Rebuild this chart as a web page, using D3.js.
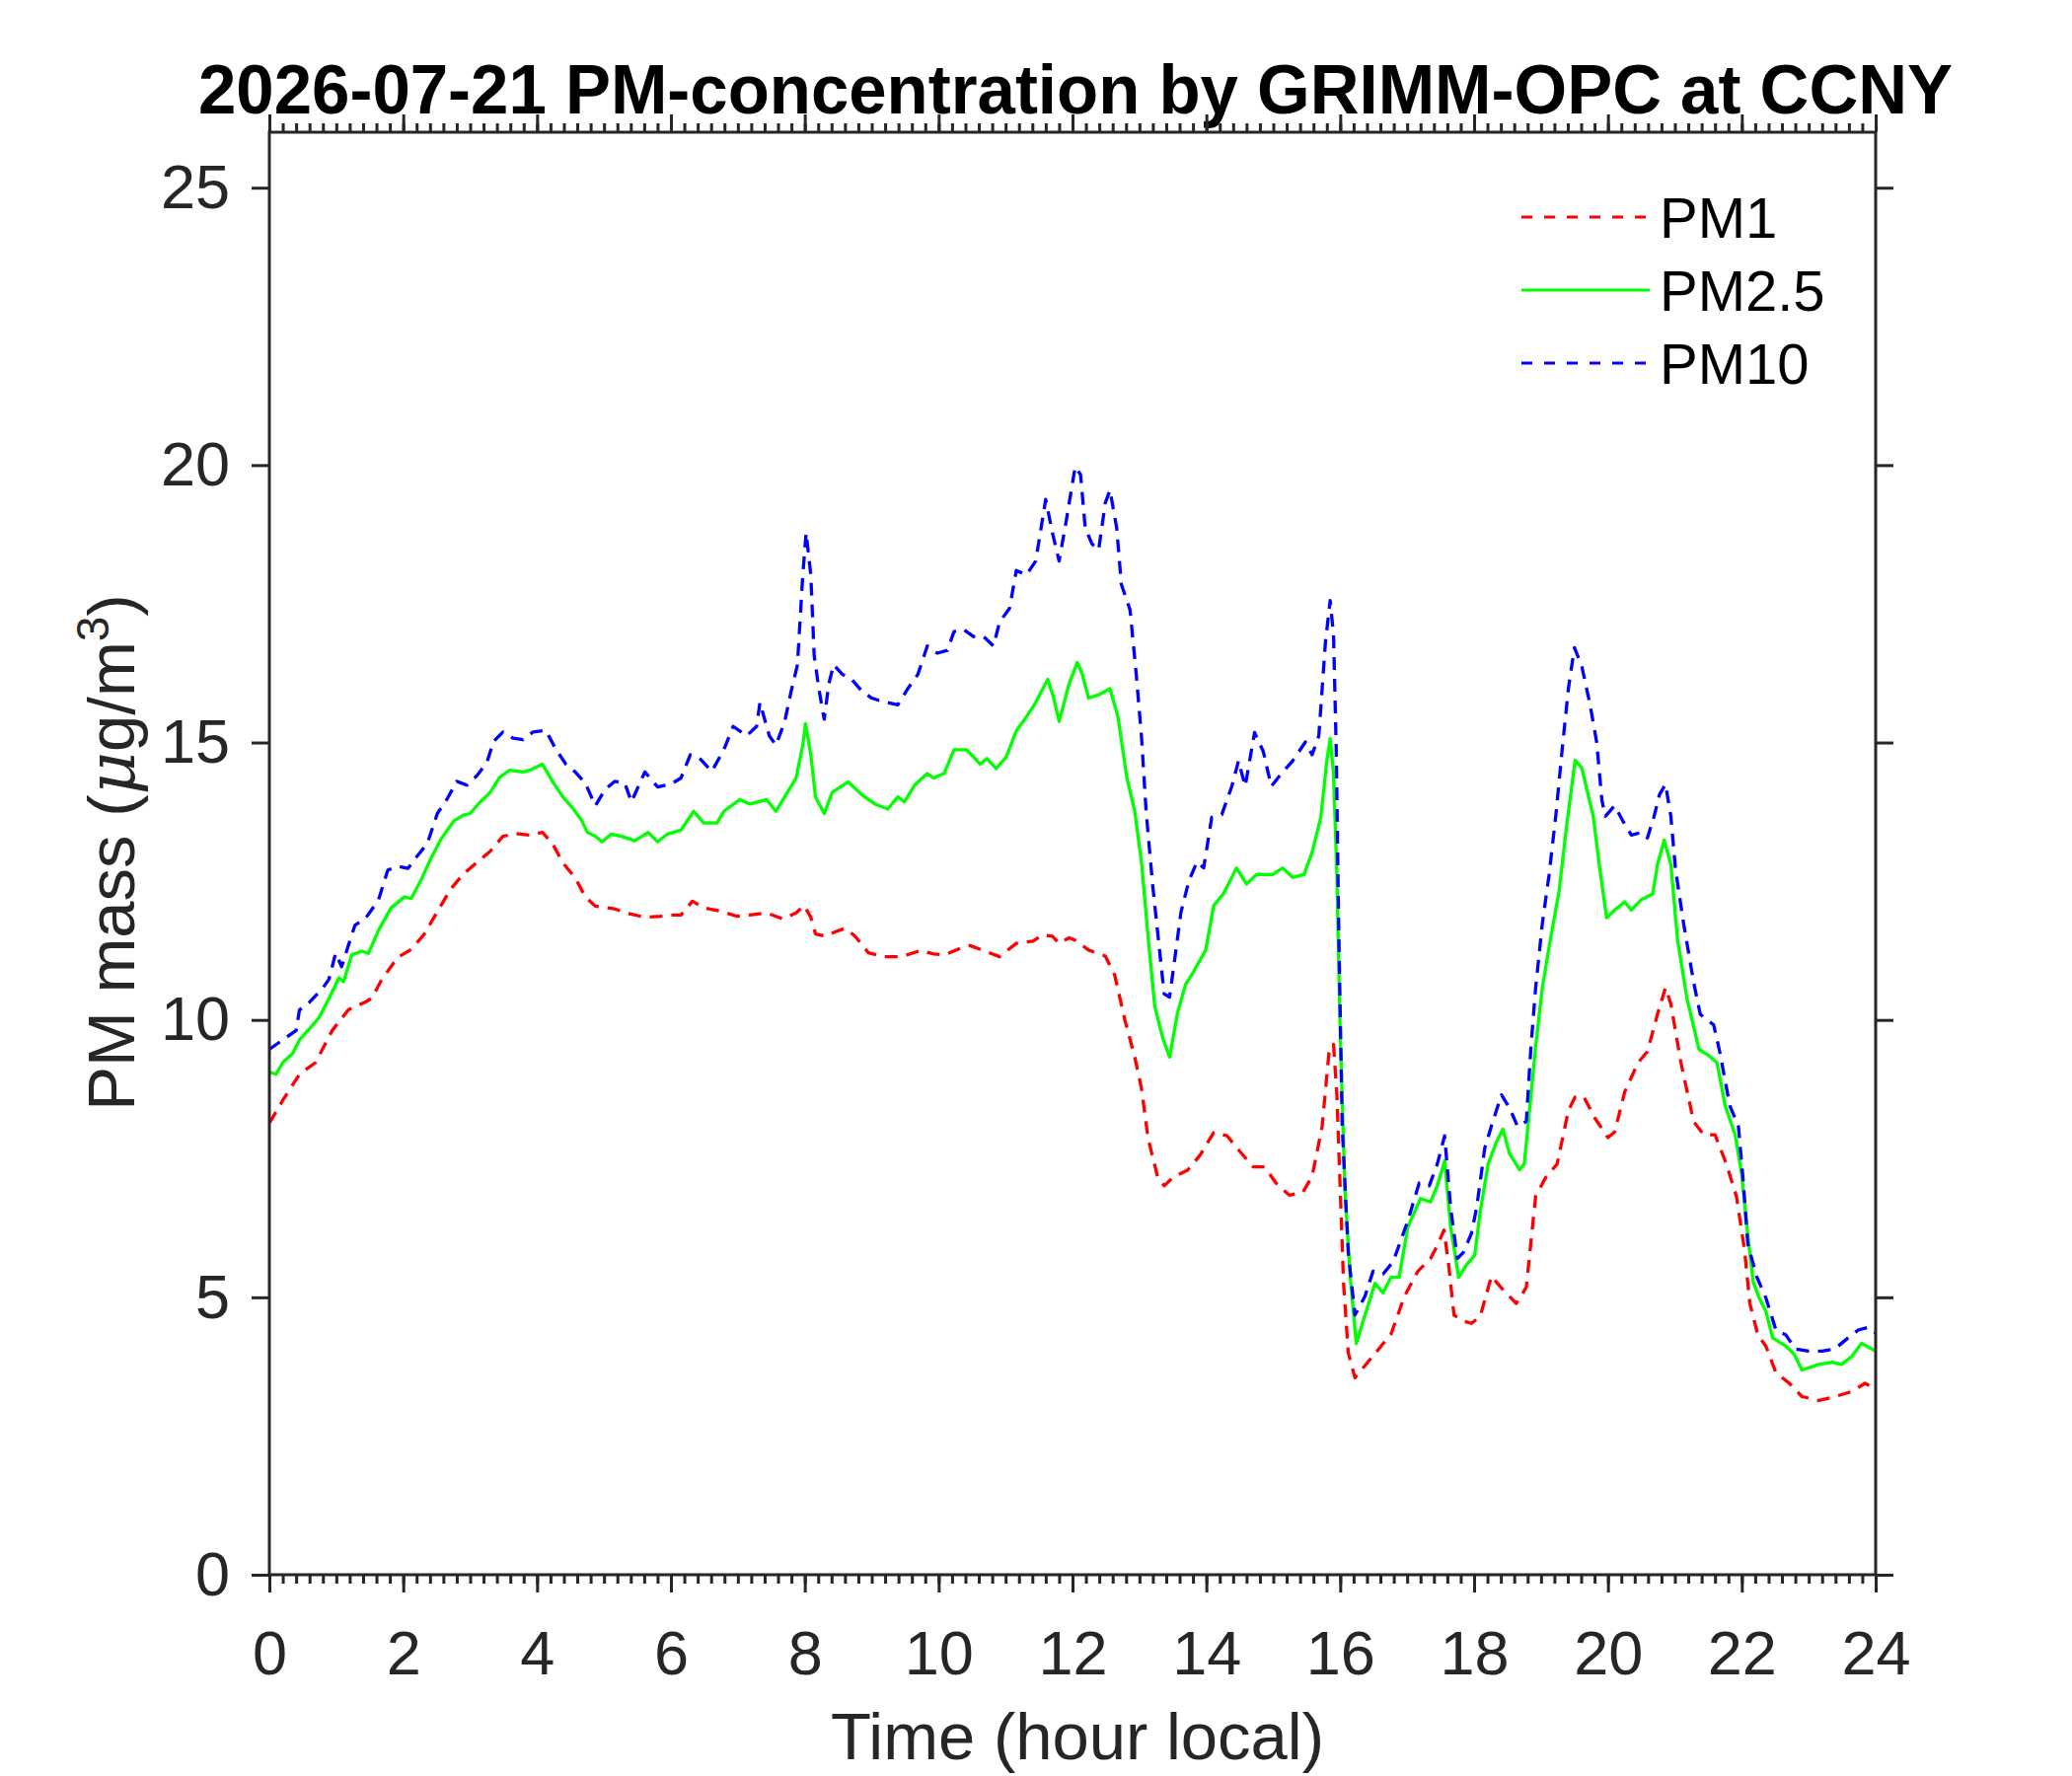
<!DOCTYPE html>
<html>
<head>
<meta charset="utf-8">
<script src="https://cdn.jsdelivr.net/npm/d3@7"></script>
<style>
  body { margin: 0; background: #fff; }
  text { font-family: "Liberation Sans", Arial, Helvetica, sans-serif; }
</style>
</head>
<body>
<div id="chart"></div>
<script>
// values: [hour, ug/m3]
const pm1 = [
  [0, 8.14], [0.2, 8.55], [0.45, 9.02], [0.69, 9.23], [0.94, 9.81], [1.18, 10.18], [1.43, 10.32],
  [1.53, 10.39], [1.68, 10.73], [1.92, 11.13], [2.12, 11.27], [2.31, 11.54], [2.51, 11.95],
  [2.71, 12.36], [2.9, 12.63], [3.1, 12.84], [3.3, 13.04], [3.49, 13.31], [3.69, 13.36],
  [3.89, 13.33], [4.08, 13.38], [4.23, 13.18], [4.38, 12.84], [4.57, 12.56], [4.72, 12.22],
  [4.87, 12.05], [5.16, 12.0], [5.36, 11.92], [5.61, 11.85], [5.85, 11.87], [6.0, 11.89],
  [6.15, 11.89], [6.32, 12.14], [6.49, 12.02], [6.74, 11.96], [6.98, 11.87], [7.18, 11.89],
  [7.43, 11.93], [7.67, 11.82], [7.87, 11.93], [7.99, 12.06], [8.09, 11.85], [8.16, 11.55],
  [8.31, 11.51], [8.46, 11.59], [8.6, 11.65], [8.75, 11.51], [8.95, 11.21], [9.19, 11.14],
  [9.44, 11.14], [9.73, 11.25], [9.93, 11.19], [10.08, 11.17], [10.32, 11.29], [10.47, 11.34],
  [10.67, 11.25], [10.91, 11.14], [11.16, 11.38], [11.41, 11.42], [11.55, 11.53], [11.7, 11.51],
  [11.8, 11.38], [11.95, 11.48], [12.05, 11.43], [12.24, 11.26], [12.49, 11.15], [12.63, 10.81],
  [12.78, 10.01], [12.93, 9.33], [13.03, 8.77], [13.13, 7.86], [13.27, 7.18], [13.37, 7.01],
  [13.52, 7.18], [13.72, 7.29], [13.91, 7.57], [14.11, 7.97], [14.31, 7.91], [14.5, 7.63],
  [14.7, 7.35], [14.87, 7.35], [15.04, 7.06], [15.24, 6.84], [15.44, 6.89], [15.58, 7.18],
  [15.73, 8.08], [15.83, 9.39], [15.9, 9.56], [15.95, 8.65], [16.0, 6.95], [16.05, 5.25],
  [16.12, 4.0], [16.22, 3.55], [16.37, 3.77], [16.57, 4.06], [16.76, 4.34], [16.96, 5.02],
  [17.16, 5.47], [17.35, 5.7], [17.45, 5.93], [17.55, 6.21], [17.62, 5.59], [17.7, 4.68],
  [17.84, 4.57], [17.96, 4.53], [18.09, 4.65], [18.26, 5.38], [18.43, 5.14], [18.63, 4.89],
  [18.78, 5.18], [18.92, 6.82], [19.07, 7.16], [19.24, 7.4], [19.41, 8.37], [19.51, 8.61],
  [19.64, 8.61], [19.81, 8.22], [20.0, 7.88], [20.1, 7.98], [20.25, 8.7], [20.45, 9.23],
  [20.59, 9.43], [20.74, 10.1], [20.86, 10.58], [20.94, 10.29], [21.09, 9.23], [21.28, 8.17],
  [21.43, 7.93], [21.6, 7.93], [21.77, 7.4], [21.92, 6.82], [22.04, 5.86], [22.12, 4.89],
  [22.24, 4.32], [22.36, 4.12], [22.51, 3.64], [22.71, 3.45], [22.9, 3.21], [23.15, 3.14],
  [23.39, 3.21], [23.64, 3.3], [23.84, 3.45], [24, 3.35]
];

const pm25 = [
  [0, 9.06], [0.1, 9.02], [0.2, 9.23], [0.35, 9.4], [0.45, 9.64], [0.6, 9.84], [0.74, 10.04],
  [0.89, 10.38], [1.04, 10.76], [1.11, 10.69], [1.23, 11.17], [1.38, 11.24], [1.48, 11.2],
  [1.63, 11.61], [1.82, 12.02], [2.02, 12.22], [2.12, 12.19], [2.27, 12.53], [2.41, 12.9],
  [2.56, 13.25], [2.76, 13.59], [2.9, 13.69], [3.0, 13.72], [3.15, 13.93], [3.3, 14.1],
  [3.44, 14.37], [3.59, 14.5], [3.79, 14.47], [3.89, 14.5], [4.08, 14.61], [4.23, 14.3],
  [4.38, 14.03], [4.53, 13.82], [4.67, 13.59], [4.75, 13.38], [4.87, 13.31], [4.97, 13.21],
  [5.11, 13.35], [5.26, 13.31], [5.46, 13.23], [5.66, 13.38], [5.8, 13.21], [5.95, 13.35],
  [6.15, 13.42], [6.34, 13.76], [6.49, 13.55], [6.69, 13.55], [6.79, 13.76], [7.03, 13.97],
  [7.18, 13.89], [7.43, 13.97], [7.57, 13.76], [7.72, 14.06], [7.87, 14.36], [7.97, 14.95],
  [8.01, 15.34], [8.09, 14.78], [8.16, 14.02], [8.29, 13.72], [8.41, 14.1], [8.65, 14.29],
  [8.85, 14.06], [9.05, 13.89], [9.24, 13.8], [9.39, 14.02], [9.49, 13.93], [9.64, 14.23],
  [9.83, 14.44], [9.93, 14.36], [10.08, 14.44], [10.23, 14.87], [10.42, 14.87], [10.62, 14.61],
  [10.72, 14.71], [10.86, 14.53], [11.01, 14.74], [11.16, 15.21], [11.31, 15.46], [11.45, 15.72],
  [11.63, 16.14], [11.72, 15.8], [11.8, 15.38], [11.95, 16.06], [12.07, 16.44], [12.14, 16.26],
  [12.24, 15.8], [12.39, 15.86], [12.56, 15.97], [12.68, 15.46], [12.81, 14.38], [12.93, 13.76],
  [13.03, 12.85], [13.13, 11.49], [13.23, 10.24], [13.35, 9.67], [13.45, 9.33], [13.57, 10.13],
  [13.69, 10.64], [13.81, 10.87], [13.99, 11.26], [14.11, 12.06], [14.26, 12.28], [14.45, 12.74],
  [14.6, 12.45], [14.75, 12.62], [14.99, 12.62], [15.14, 12.74], [15.29, 12.57], [15.46, 12.62],
  [15.58, 13.02], [15.71, 13.65], [15.8, 14.67], [15.85, 15.07], [15.9, 14.44], [15.95, 12.62],
  [16.0, 9.79], [16.07, 6.95], [16.15, 5.36], [16.24, 4.17], [16.37, 4.68], [16.52, 5.25],
  [16.64, 5.08], [16.76, 5.36], [16.88, 5.36], [17.01, 6.27], [17.2, 6.78], [17.35, 6.72],
  [17.45, 7.01], [17.56, 7.46], [17.65, 6.27], [17.77, 5.36], [17.89, 5.59], [18.01, 5.76],
  [18.09, 6.53], [18.21, 7.4], [18.33, 7.79], [18.43, 8.03], [18.53, 7.59], [18.68, 7.3],
  [18.75, 7.4], [18.82, 8.27], [18.92, 9.52], [19.02, 10.58], [19.14, 11.45], [19.27, 12.32],
  [19.39, 13.57], [19.51, 14.68], [19.61, 14.54], [19.78, 13.67], [19.88, 12.71], [19.98, 11.84],
  [20.1, 11.98], [20.25, 12.13], [20.35, 11.98], [20.5, 12.17], [20.67, 12.27], [20.74, 12.8],
  [20.84, 13.24], [20.94, 12.8], [21.04, 11.45], [21.18, 10.39], [21.36, 9.47], [21.48, 9.38],
  [21.63, 9.23], [21.75, 8.46], [21.9, 7.93], [22.0, 7.21], [22.07, 6.34], [22.17, 5.28],
  [22.26, 4.99], [22.36, 4.75], [22.46, 4.27], [22.66, 4.12], [22.78, 3.98], [22.9, 3.69],
  [23.15, 3.79], [23.35, 3.83], [23.49, 3.79], [23.64, 3.93], [23.79, 4.17], [24, 4.03]
];

const pm10 = [
  [0, 9.47], [0.2, 9.64], [0.4, 9.81], [0.45, 10.18], [0.6, 10.32], [0.79, 10.56], [0.89, 10.73],
  [0.99, 11.2], [1.08, 10.96], [1.18, 11.34], [1.28, 11.71], [1.43, 11.82], [1.63, 12.16],
  [1.77, 12.7], [1.92, 12.77], [2.07, 12.73], [2.22, 12.97], [2.36, 13.18], [2.51, 13.72],
  [2.66, 13.99], [2.8, 14.3], [2.95, 14.23], [3.1, 14.4], [3.25, 14.64], [3.35, 15.02],
  [3.49, 15.19], [3.64, 15.08], [3.79, 15.05], [3.94, 15.19], [4.13, 15.22], [4.28, 14.88],
  [4.43, 14.61], [4.57, 14.47], [4.72, 14.27], [4.87, 13.86], [5.02, 14.16], [5.16, 14.3],
  [5.31, 14.27], [5.41, 13.93], [5.61, 14.47], [5.8, 14.2], [6.0, 14.25], [6.15, 14.36],
  [6.29, 14.78], [6.44, 14.7], [6.61, 14.48], [6.79, 14.87], [6.93, 15.29], [7.13, 15.12],
  [7.28, 15.29], [7.33, 15.72], [7.43, 15.29], [7.47, 15.12], [7.57, 14.95], [7.7, 15.38],
  [7.79, 15.89], [7.89, 16.4], [7.97, 18.02], [8.02, 18.78], [8.09, 18.02], [8.14, 16.57],
  [8.21, 15.97], [8.29, 15.42], [8.36, 16.06], [8.43, 16.4], [8.56, 16.23], [8.7, 16.14],
  [8.85, 15.93], [9.0, 15.8], [9.1, 15.76], [9.24, 15.72], [9.39, 15.68], [9.54, 15.97],
  [9.69, 16.23], [9.83, 16.74], [9.98, 16.61], [10.13, 16.66], [10.23, 17.0], [10.37, 17.04],
  [10.52, 16.91], [10.67, 16.91], [10.82, 16.74], [10.91, 17.17], [11.06, 17.42], [11.16, 18.1],
  [11.31, 18.02], [11.45, 18.27], [11.6, 19.38], [11.7, 18.78], [11.8, 18.27], [11.9, 18.95],
  [12.04, 19.97], [12.12, 19.83], [12.19, 18.87], [12.29, 18.58], [12.39, 18.47], [12.49, 19.32],
  [12.56, 19.55], [12.66, 18.87], [12.73, 17.85], [12.86, 17.39], [12.95, 16.26], [13.03, 15.12],
  [13.1, 13.76], [13.2, 12.4], [13.3, 11.26], [13.37, 10.47], [13.45, 10.41], [13.52, 11.03],
  [13.62, 11.94], [13.74, 12.51], [13.86, 12.85], [13.96, 12.74], [14.08, 13.65], [14.23, 13.7],
  [14.38, 14.21], [14.48, 14.67], [14.58, 14.21], [14.72, 15.18], [14.85, 14.84], [14.97, 14.21],
  [15.12, 14.44], [15.29, 14.67], [15.48, 15.01], [15.58, 14.78], [15.68, 15.12], [15.78, 16.82],
  [15.85, 17.56], [15.9, 16.94], [15.94, 14.9], [15.98, 11.49], [16.03, 8.08], [16.12, 5.81],
  [16.22, 4.68], [16.37, 5.02], [16.49, 5.47], [16.64, 5.42], [16.79, 5.64], [16.91, 6.04],
  [17.01, 6.38], [17.18, 7.06], [17.33, 7.01], [17.45, 7.4], [17.56, 7.91], [17.65, 6.61],
  [17.75, 5.7], [17.84, 5.81], [17.96, 6.15], [18.04, 6.63], [18.16, 7.69], [18.28, 8.17],
  [18.41, 8.65], [18.53, 8.41], [18.65, 8.08], [18.78, 8.17], [18.85, 9.52], [18.92, 10.58],
  [19.02, 11.74], [19.12, 12.61], [19.22, 13.67], [19.32, 14.92], [19.41, 15.98], [19.5, 16.71],
  [19.61, 16.37], [19.73, 15.7], [19.83, 15.02], [19.91, 13.96], [19.96, 13.67], [20.1, 13.86],
  [20.23, 13.57], [20.35, 13.33], [20.5, 13.38], [20.59, 13.28], [20.69, 13.67], [20.77, 14.06],
  [20.86, 14.25], [20.94, 13.67], [21.01, 12.71], [21.13, 11.74], [21.28, 10.68], [21.38, 10.1],
  [21.58, 9.91], [21.67, 9.43], [21.82, 8.46], [21.95, 8.08], [22.02, 7.11], [22.09, 5.96],
  [22.22, 5.38], [22.36, 4.99], [22.51, 4.41], [22.66, 4.32], [22.8, 4.07], [23.0, 4.03],
  [23.2, 4.03], [23.39, 4.07], [23.59, 4.27], [23.74, 4.41], [23.89, 4.46], [24, 4.36]
];

const seriesNames = ["PM1", "PM2.5", "PM10"];
const seriesColors = ["#ff0000", "#00ff00", "#0000ff"];
const lineDash = ["13,9", null, "13,9"];
const legendDash = ["11,12", null, "11,12"];
const xTicks = d3.range(0, 25, 2);
const xMinorTicks = d3.range(0, 24.01, 0.2);
const yTicks = [0, 5, 10, 15, 20, 25];

const width = 2100, height = 1800;
const margin = { top: 134, right: 199, bottom: 204, left: 273 };
const axisColor = "#262626";

const svg = d3.select("#chart")
  .append("svg")
  .attr("width", width)
  .attr("height", height);

const x = d3.scaleLinear().domain([0, 24]).range([margin.left, width - margin.right]);
const y = d3.scaleLinear().domain([0, 26]).range([height - margin.bottom, margin.top]);

// title
svg.append("text")
  .attr("x", 1090)
  .attr("y", 115)
  .attr("text-anchor", "middle")
  .attr("font-size", 70)
  .attr("font-weight", "bold")
  .attr("fill", "#000")
  .attr("textLength", 1778)
  .attr("lengthAdjust", "spacingAndGlyphs")
  .text("2026-07-21 PM-concentration by GRIMM-OPC at CCNY");

// lines
const line = d3.line().x((d) => x(d[0])).y((d) => y(d[1]));
[pm1, pm25, pm10].forEach((data, i) => {
  svg.append("path")
    .datum(data)
    .attr("d", line)
    .attr("fill", "none")
    .attr("stroke", seriesColors[i])
    .attr("stroke-width", 3.3)
    .attr("stroke-linejoin", "round")
    .attr("stroke-dasharray", lineDash[i]);
});

// axes
function styleAxis(g) {
  g.select(".domain").remove();
  g.selectAll("line").attr("stroke", axisColor).attr("stroke-width", 3);
  g.selectAll("text").attr("fill", axisColor).attr("font-size", 63);
}

const plotBottom = height - margin.bottom;
const plotRight = width - margin.right;

svg.append("g")
  .attr("transform", `translate(0,${plotBottom})`)
  .call(d3.axisBottom(x).tickValues(xMinorTicks).tickSize(9).tickFormat(""))
  .call(styleAxis);
svg.append("g")
  .attr("transform", `translate(0,${plotBottom})`)
  .call(d3.axisBottom(x).tickValues(xTicks).tickSize(18).tickPadding(38).tickFormat(d3.format("d")))
  .call(styleAxis);

svg.append("g")
  .attr("transform", `translate(0,${margin.top})`)
  .call(d3.axisTop(x).tickValues(xMinorTicks).tickSize(9).tickFormat(""))
  .call(styleAxis);
svg.append("g")
  .attr("transform", `translate(0,${margin.top})`)
  .call(d3.axisTop(x).tickValues(xTicks).tickSize(18).tickFormat(""))
  .call(styleAxis);

svg.append("g")
  .attr("transform", `translate(${margin.left},0)`)
  .call(d3.axisLeft(y).tickValues(yTicks).tickSize(18).tickPadding(22).tickFormat(d3.format("d")))
  .call(styleAxis);
svg.append("g")
  .attr("transform", `translate(${plotRight},0)`)
  .call(d3.axisRight(y).tickValues(yTicks).tickSize(18).tickFormat(""))
  .call(styleAxis);

// box
svg.append("rect")
  .attr("x", margin.left)
  .attr("y", margin.top)
  .attr("width", plotRight - margin.left)
  .attr("height", plotBottom - margin.top)
  .attr("fill", "none")
  .attr("stroke", axisColor)
  .attr("stroke-width", 3);

// axis labels
svg.append("text")
  .attr("x", 1092)
  .attr("y", 1783)
  .attr("text-anchor", "middle")
  .attr("font-size", 67)
  .attr("fill", axisColor)
  .text("Time (hour local)");

const yLabel = svg.append("text")
  .attr("transform", "translate(136,864) rotate(-90)")
  .attr("text-anchor", "middle")
  .attr("font-size", 67)
  .attr("fill", axisColor);
yLabel.append("tspan").text("PM mass (");
yLabel.append("tspan").attr("font-style", "italic").attr("font-family", "DejaVu Serif, serif").text("μ");
yLabel.append("tspan").text("g/m");
yLabel.append("tspan").attr("dy", -26).attr("font-size", 46).text("3");
yLabel.append("tspan").attr("dy", 26).text(")");

// legend
const legend = svg.append("g");
seriesNames.forEach((name, i) => {
  const ly = 220 + i * 74;
  legend.append("line")
    .attr("x1", 1542).attr("x2", 1672)
    .attr("y1", ly).attr("y2", ly)
    .attr("stroke", seriesColors[i])
    .attr("stroke-width", 3)
    .attr("stroke-dasharray", legendDash[i]);
  legend.append("text")
    .attr("x", 1682)
    .attr("y", ly)
    .attr("dy", "0.36em")
    .attr("font-size", 58)
    .attr("fill", "#000")
    .text(name);
});
</script>
</body>
</html>
